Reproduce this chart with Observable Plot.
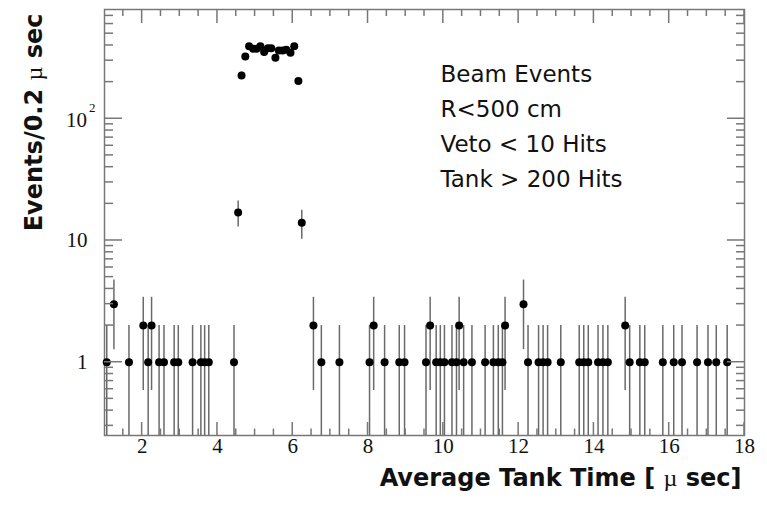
<!DOCTYPE html>
<html>
<head>
<meta charset="utf-8">
<script src="https://cdn.jsdelivr.net/npm/d3@7"></script>
<script src="https://cdn.jsdelivr.net/npm/@observablehq/plot@0.6"></script>
<style>
  html, body { margin: 0; padding: 0; background: #fff; }
  #chart { width: 767px; height: 506px; overflow: hidden; }
</style>
</head>
<body>
<div id="chart"></div>
<script>
// Average tank time (µs) of bins holding one, two or three events
const times1 = [1.06, 1.65, 2.16, 2.45, 2.58, 2.85, 2.96, 3.34, 3.56, 3.66, 3.77, 4.44,
  6.76, 7.24, 8.04, 8.44, 8.83, 8.97, 9.54, 9.81, 9.92, 10.03, 10.23, 10.35, 10.54, 10.76,
  11.11, 11.33, 11.46, 11.57, 12.25, 12.53, 12.65, 12.77, 13.12, 13.61, 13.73, 13.85,
  14.11, 14.24, 14.37, 14.95, 15.22, 15.35, 15.83, 16.12, 16.34, 16.74, 17.03, 17.25, 17.54];
const times2 = [2.03, 2.25, 6.55, 8.15, 9.65, 10.42, 11.64, 14.83];
const times3 = [1.25, 12.13];

// Beam window
const peakTimes  = [4.55, 4.64, 4.74, 4.84, 4.95, 5.04, 5.14, 5.24, 5.34, 5.43, 5.54,
  5.63, 5.73, 5.83, 5.94, 6.04, 6.15, 6.24];
const peakCounts = [17, 227, 325, 395, 376, 376, 395, 353, 380, 380, 317,
  364, 364, 369, 349, 395, 204, 14];

// Axis tick labels
const xTickValues = [2, 4, 6, 8, 10, 12, 14, 16, 18];
const yTickValues = [1, 10, 100];
const yTickLabels = ["1", "10", "10\u00B2"];

// Selection cuts
const noteLines = ["Beam Events", "R<500 cm", "Veto < 10 Hits", "Tank > 200 Hits"];

const xTitle = "Average Tank Time [ \u00B5 sec]";
const yTitle = "Events/0.2 \u00B5 sec";

(function draw() {
  const rows = [
    ...times1.map(t => ({t, n: 1})),
    ...times2.map(t => ({t, n: 2})),
    ...times3.map(t => ({t, n: 3})),
    ...peakTimes.map((t, i) => ({t, n: peakCounts[i]}))
  ];

  const W = 767, H = 506;
  const margin = {left: 104, right: 23, top: 9, bottom: 71};

  const yMin = 0.25, yMax = 790;
  const axisColor = "#777";
  const serif = "'Liberation Serif', 'Times New Roman', serif";
  const sans = "'DejaVu Sans', 'Liberation Sans', sans-serif";

  // minor ticks: every 0.5 µs on x, 2..9 per decade on y
  const xMinor = d3.range(1.5, 18, 0.5).filter(v => v % 2 !== 0);
  const yMinor = [0.3, 0.4, 0.5, 0.6, 0.7, 0.8, 0.9, 2, 3, 4, 5, 6, 7, 8, 9,
    20, 30, 40, 50, 60, 70, 80, 90, 200, 300, 400, 500, 600, 700];

  const chart = Plot.plot({
    width: W,
    height: H,
    marginLeft: margin.left,
    marginRight: margin.right,
    marginTop: margin.top,
    marginBottom: margin.bottom,
    style: {background: "#fff"},
    x: {domain: [1, 18], axis: null},
    y: {type: "log", domain: [yMin, yMax], axis: null},
    marks: [
      Plot.frame({stroke: axisColor, strokeWidth: 1.5}),

      // sqrt(N) error bars
      Plot.ruleX(rows, {
        x: "t",
        y1: d => Math.max(d.n - Math.sqrt(d.n), yMin),
        y2: d => d.n + Math.sqrt(d.n),
        stroke: "#6a6a6a",
        strokeWidth: 1.5
      }),
      Plot.dot(rows, {x: "t", y: "n", r: 4, fill: "#000"}),

      // tick labels
      Plot.text(xTickValues, {
        x: d => d, text: d => String(d), frameAnchor: "bottom", dy: 17,
        fontFamily: serif, fontSize: 21, fill: "#111"
      }),
      Plot.text(yTickValues.slice(0, 2), {
        y: d => d, text: (d, i) => yTickLabels[i], frameAnchor: "left", textAnchor: "end",
        dx: -17, fontFamily: serif, fontSize: 21, fill: "#111"
      }),
      Plot.text(yTickValues.slice(2), {
        y: d => d, text: (d, i) => yTickLabels[i + 2], frameAnchor: "left", textAnchor: "end",
        dx: -9, dy: 2, fontFamily: serif, fontSize: 21, fill: "#111"
      }),

      // axis titles
      Plot.text([xTitle], {
        text: d => d, frameAnchor: "bottom-right", textAnchor: "end", lineAnchor: "bottom",
        dx: -3, dy: 50, fontFamily: sans, fontWeight: "bold", fontSize: 24, fill: "#111"
      }),
      Plot.text([yTitle], {
        text: d => d, frameAnchor: "top-left", rotate: -90, textAnchor: "end", lineAnchor: "bottom",
        dx: -62.5, dy: 4, fontFamily: sans, fontWeight: "bold", fontSize: 24, fill: "#111"
      }),

      // selection summary
      Plot.text([noteLines.join("\n")], {
        text: d => d, frameAnchor: "top-left", textAnchor: "start", lineAnchor: "top",
        lineHeight: 35 / 23, dx: 336, dy: 48, fontFamily: sans, fontSize: 23, fill: "#111"
      })
    ]
  });

  d3.select(chart).selectAll("text").each(function () {
    const s = this.textContent;
    const t = d3.select(this);
    if (s === xTitle || s === yTitle) {
      // micro sign in a light serif face inside the bold titles
      const [before, after] = s.split("\u00B5");
      t.text(null);
      t.append("tspan").text(before);
      t.append("tspan").attr("font-family", serif).attr("font-weight", "normal").text("\u00B5");
      t.append("tspan").text(after);
    } else if (s === yTickLabels[2]) {
      // raised exponent for 10^2
      t.text(null);
      t.append("tspan").text("10");
      t.append("tspan").attr("font-size", 13).attr("dx", 2).attr("dy", -15).text("2");
    }
  });

  // inward ticks on all four sides, placed with the plot's own x and y scales
  const sx = chart.scale("x"), sy = chart.scale("y");
  const edgeL = margin.left, edgeR = W - margin.right;
  const edgeT = margin.top, edgeB = H - margin.bottom;
  const tickLayer = d3.select(chart).append("g")
    .attr("stroke", axisColor).attr("stroke-width", 1.5);
  const addX = (values, len, y0, dir) => values.forEach(v => {
    const px = sx.apply(v);
    tickLayer.append("line").attr("x1", px).attr("x2", px).attr("y1", y0).attr("y2", y0 + dir * len);
  });
  const addY = (values, len, x0, dir) => values.forEach(v => {
    const py = sy.apply(v);
    tickLayer.append("line").attr("y1", py).attr("y2", py).attr("x1", x0).attr("x2", x0 + dir * len);
  });
  addX(xTickValues, 13, edgeB, -1);
  addX(xMinor, 6.5, edgeB, -1);
  addX(xTickValues, 14, edgeT, 1);
  addX(xMinor, 7, edgeT, 1);
  addY(yTickValues, 18, edgeL, 1);
  addY(yMinor, 9, edgeL, 1);
  addY(yTickValues, 17, edgeR, -1);
  addY(yMinor, 8, edgeR, -1);

  document.getElementById("chart").appendChild(chart);
})();
</script>
</body>
</html>
